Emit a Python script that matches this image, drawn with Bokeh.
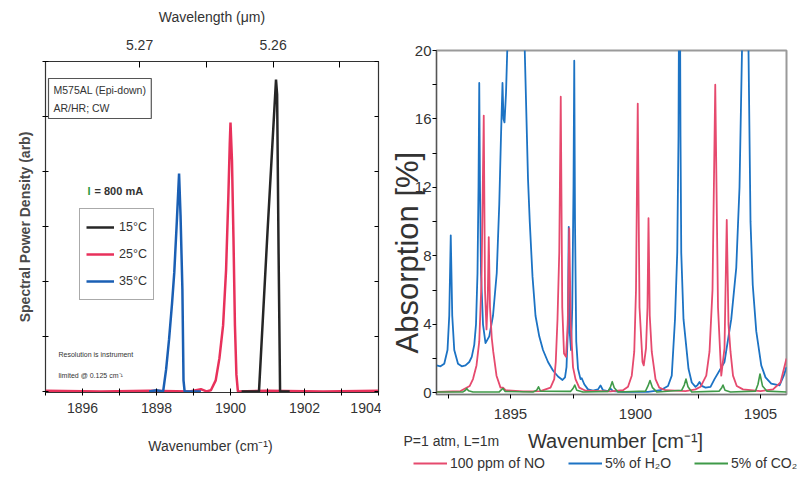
from bokeh.plotting import figure
from bokeh.layouts import row, column
from bokeh.models import Range1d, LinearAxis, FixedTicker, Label, Legend, LegendItem
from bokeh.embed import file_html
from bokeh.resources import INLINE

# ---------------- data: left panel (laser spectra) ----------------
L_WN_15 = [1900.3, 1900.77, 1901.0, 1901.23, 1901.26, 1901.3, 1901.34, 1901.6]
L_SP_15 = [0.0, 0.0, 2.9, 5.67, 5.4, 2.5, 0.0, 0.0]

L_WN_25 = [1895.0, 1896.5, 1897.8, 1898.9, 1899.2, 1899.35, 1899.47, 1899.6, 1899.7, 1899.8,
           1899.88, 1899.94, 1899.98, 1900.0, 1900.04, 1900.08, 1900.12, 1900.16, 1900.2, 1901.0,
           1902.5, 1904.0]
L_SP_25 = [0.01, 0.0, 0.01, 0.0, 0.04, 0.0, 0.02, 0.2, 0.6, 1.2,
           2.2, 3.5, 4.5, 4.89, 4.2, 2.8, 1.2, 0.3, 0.0, 0.01,
           0.0, 0.01]

L_WN_35 = [1897.8, 1898.0, 1898.18, 1898.26, 1898.34, 1898.42, 1898.48, 1898.55, 1898.61, 1898.65,
           1898.7, 1898.73, 1898.76, 1899.2]
L_SP_35 = [0.0, 0.02, 0.0, 0.4, 0.95, 1.6, 2.16, 3.1, 3.96, 3.2,
           1.85, 0.2, 0.0, 0.0]

L_LABELS = ["15°C", "25°C", "35°C"]
L_X_TICKS = [1896, 1898, 1900, 1902, 1904]
L_X_MINOR = [1895, 1897, 1899, 1901, 1903]
L_Y_TICKS = [0, 1, 2, 3, 4, 5, 6]
WL_TICKS = [5.27, 5.26]
WL_MINOR = [5.265, 5.255]

# ---------------- data: right panel (absorption) ----------------
NO_WN = [1892.04, 1893.0, 1893.37, 1893.5, 1893.64, 1893.75, 1893.84, 1893.93, 1893.98, 1894.04,
         1894.09, 1894.13, 1894.18, 1894.25, 1894.31, 1894.44, 1894.6, 1894.7, 1894.8, 1895.5,
         1896.2, 1896.6, 1896.75, 1896.81, 1896.88, 1896.95, 1897.01, 1897.07, 1897.14, 1897.22,
         1897.29, 1897.35, 1897.41, 1897.5, 1897.6, 1897.75, 1898.0, 1899.0, 1899.5, 1899.7,
         1899.85, 1899.95, 1900.02, 1900.09, 1900.16, 1900.28, 1900.33, 1900.42, 1900.48, 1900.52,
         1900.57, 1900.65, 1900.8, 1900.95, 1901.2, 1902.0, 1902.4, 1902.6, 1902.83, 1902.96,
         1903.08, 1903.19, 1903.3, 1903.43, 1903.56, 1903.65, 1903.72, 1903.8, 1903.9, 1904.05,
         1904.3, 1905.0, 1905.5, 1905.8, 1906.04]
NO_ABS = [0.05, 0.1, 0.4, 0.8, 1.6, 3.0, 6.5, 16.2, 6.0, 3.7,
          5.5, 9.1, 5.0, 3.2, 2.4, 1.0, 0.3, 0.3, 0.15, 0.08,
          0.1, 0.3, 0.8, 1.8, 4.3, 8.2, 17.3, 5.0, 2.3, 2.1,
          4.0, 9.6, 4.0, 1.5, 0.8, 0.3, 0.12, 0.08, 0.15, 0.35,
          1.0, 2.4, 6.0, 16.9, 5.0, 1.8, 1.6, 2.6, 5.0, 10.2,
          4.5, 2.4, 0.8, 0.3, 0.15, 0.1, 0.2, 0.35, 1.0, 2.4,
          6.0, 18.0, 5.0, 1.0, 2.6, 10.1, 4.0, 2.4, 1.0, 0.4,
          0.2, 0.1, 0.2, 0.6, 2.0]

H2O_WN = [1892.04, 1892.2, 1892.35, 1892.48, 1892.55, 1892.61, 1892.67, 1892.75, 1892.9, 1893.05,
          1893.2, 1893.35, 1893.45, 1893.55, 1893.62, 1893.68, 1893.72, 1893.75, 1893.78, 1893.82,
          1893.9, 1894.0, 1894.15, 1894.3, 1894.45, 1894.55, 1894.62, 1894.68, 1894.72, 1894.76,
          1894.82, 1894.88, 1895.0, 1895.3, 1895.57, 1895.7, 1895.77, 1895.88, 1896.0, 1896.15,
          1896.3, 1896.5, 1896.7, 1896.9, 1897.08, 1897.18, 1897.24, 1897.29, 1897.33, 1897.37,
          1897.42, 1897.47, 1897.52, 1897.55, 1897.58, 1897.63, 1897.7, 1897.8, 1897.85, 1897.95,
          1898.1, 1898.3, 1898.5, 1898.6, 1898.7, 1898.9, 1899.0, 1899.1, 1899.5, 1900.5,
          1901.0, 1901.3, 1901.45, 1901.58, 1901.67, 1901.72, 1901.76, 1901.8, 1901.83, 1901.92,
          1902.12, 1902.25, 1902.4, 1902.48, 1902.56, 1902.65, 1902.8, 1903.0, 1903.16, 1903.56,
          1903.83, 1904.03, 1904.16, 1904.26, 1904.38, 1904.52, 1904.6, 1904.69, 1904.83, 1905.03,
          1905.2, 1905.43, 1905.76, 1905.93, 1906.04]
H2O_ABS = [1.6, 1.55, 1.7, 2.5, 4.5, 9.2, 4.5, 2.5, 1.7, 1.55,
           1.6, 1.8, 2.1, 2.8, 4.0, 7.0, 12.0, 18.1, 12.0, 7.0,
           4.0, 2.9, 3.3, 4.5, 7.0, 11.0, 15.0, 18.1, 16.0, 15.8,
           17.5, 20.5, 30.0, 40.0, 20.0, 12.5, 10.0, 6.8, 4.5, 3.3,
           2.5, 1.8, 1.3, 0.95, 0.75, 0.9, 1.5, 3.5, 9.7, 3.5,
           2.5, 5.0, 12.0, 19.4, 10.0, 3.0, 1.4, 0.8, 0.85, 0.5,
           0.2, 0.12, 0.2, 0.43, 0.15, 0.1, 0.25, 0.1, 0.05, 0.05,
           0.15, 0.4, 1.0, 4.3, 8.2, 15.0, 30.0, 15.0, 8.2, 4.3,
           1.4, 0.6, 0.35, 0.45, 0.63, 0.4, 0.3, 0.35, 0.8, 1.8,
           4.3, 7.3, 12.0, 20.0, 40.0, 20.0, 10.0, 6.3, 3.6, 1.6,
           0.9, 0.53, 0.43, 1.0, 1.5]

CO2_WN = [1892.04, 1893.1, 1893.2, 1893.25, 1893.32, 1893.5, 1894.55, 1894.65, 1894.7, 1894.78,
          1895.9, 1896.05, 1896.12, 1896.2, 1897.4, 1897.5, 1897.57, 1897.65, 1897.9, 1898.9,
          1899.0, 1899.07, 1899.15, 1899.3, 1900.4, 1900.5, 1900.58, 1900.68, 1900.85, 1901.85,
          1901.95, 1902.02, 1902.1, 1902.25, 1903.35, 1903.45, 1903.5, 1903.58, 1903.8, 1904.8,
          1904.9, 1904.98, 1905.08, 1905.25, 1906.04]
CO2_ABS = [0.05, 0.05, 0.15, 0.25, 0.12, 0.05, 0.05, 0.2, 0.25, 0.08,
           0.05, 0.15, 0.35, 0.1, 0.08, 0.25, 0.45, 0.15, 0.05, 0.08,
           0.35, 0.65, 0.3, 0.05, 0.1, 0.4, 0.72, 0.3, 0.05, 0.15,
           0.45, 0.8, 0.35, 0.05, 0.1, 0.3, 0.45, 0.15, 0.05, 0.1,
           0.5, 1.1, 0.4, 0.1, 0.05]

R_LABELS = ["100 ppm of NO", "5% of H₂O", "5% of CO₂"]
R_X_TICKS = [1895, 1900, 1905]
R_X_MINOR = [1892.5, 1897.5, 1902.5]
R_Y_TICKS = [0, 4, 8, 12, 16, 20]
R_Y_MINOR = [2, 6, 10, 14, 18]

FONT = "Liberation Sans"
TXT = "#333333"
TOP_H = 430

# ---------------- left figure ----------------
pL = figure(width=381, height=TOP_H, x_range=Range1d(1895, 1904), y_range=Range1d(-0.02, 6.0),
            output_backend="svg", toolbar_location=None,
            min_border_left=45, min_border_right=3, min_border_top=61, min_border_bottom=38)
pL.xgrid.visible = False
pL.ygrid.visible = False
pL.outline_line_color = "#333333"
pL.outline_line_width = 1.2

xa = pL.xaxis[0]
xa.ticker = FixedTicker(ticks=L_X_TICKS, minor_ticks=L_X_MINOR)
xa.major_tick_in = 4; xa.major_tick_out = 3
xa.minor_tick_in = 4; xa.minor_tick_out = 3
xa.major_label_text_font = FONT
xa.major_label_text_font_size = "14px"
xa.major_label_text_color = TXT
xa.major_label_standoff = 7
xa.axis_line_color = "#333333"

ya = pL.yaxis[0]
ya.ticker = FixedTicker(ticks=L_Y_TICKS)
ya.major_label_overrides = {t: "" for t in L_Y_TICKS}
ya.major_tick_in = 3; ya.major_tick_out = 3
ya.axis_label = "Spectral Power Density (arb)"
ya.axis_label_text_font = FONT
ya.axis_label_text_font_style = "bold"
ya.axis_label_text_font_size = "14px"
ya.axis_label_text_color = "#4a4a4a"
ya.axis_label_standoff = 10
ya.axis_line_color = "#333333"

pL.extra_x_ranges = {"wl": Range1d(1e4 / 1895, 1e4 / 1904)}
top = LinearAxis(x_range_name="wl", ticker=FixedTicker(ticks=WL_TICKS, minor_ticks=WL_MINOR),
                 axis_label="Wavelength (μm)")
top.major_tick_in = 6; top.major_tick_out = 0
top.minor_tick_in = 6; top.minor_tick_out = 0
top.major_label_text_font = FONT
top.major_label_text_font_size = "14px"
top.major_label_text_color = TXT
top.major_label_standoff = 12
top.axis_label_text_font = FONT
top.axis_label_text_font_style = "normal"
top.axis_label_text_font_size = "14px"
top.axis_label_text_color = TXT
top.axis_label_standoff = 12
top.axis_line_color = "#333333"
pL.add_layout(top, "above")

rax = LinearAxis(ticker=FixedTicker(ticks=L_Y_TICKS))
rax.major_label_overrides = {t: "" for t in L_Y_TICKS}
rax.major_tick_in = 4; rax.major_tick_out = 0
rax.major_label_standoff = 0
rax.axis_line_color = "#333333"
pL.add_layout(rax, "right")

COLS_L = ["#262626", "#e8315b", "#1a5fb4"]
r25 = pL.line(L_WN_25, L_SP_25, line_color=COLS_L[1], line_width=2.5)
r35 = pL.line(L_WN_35, L_SP_35, line_color=COLS_L[2], line_width=2.5)
r15 = pL.line(L_WN_15, L_SP_15, line_color=COLS_L[0], line_width=2.5)

legL = Legend(items=[LegendItem(label=L_LABELS[0], renderers=[r15]),
                     LegendItem(label=L_LABELS[1], renderers=[r25]),
                     LegendItem(label=L_LABELS[2], renderers=[r35])],
              location=(34, 92), glyph_width=28, glyph_height=24, spacing=3,
              padding=6, margin=0, label_standoff=5,
              label_text_font=FONT, label_text_font_size="12.5px", label_text_color=TXT,
              border_line_color="#555555", border_line_width=1.2,
              background_fill_color="white", background_fill_alpha=1.0)
pL.add_layout(legL, "center")

pL.add_layout(Label(x=3, y=314, x_units="screen", y_units="screen",
                    text="M575AL (Epi-down)\nAR/HR; CW", text_baseline="top", text_align="left",
                    text_font=FONT, text_font_size="10.5px", text_color=TXT, text_line_height=1.5,
                    border_line_color="#555555", border_line_width=1.2,
                    background_fill_color="white", padding=5))
pL.add_layout(Label(x=42, y=202, x_units="screen", y_units="screen", text="I",
                    text_baseline="middle", text_font=FONT, text_font_style="bold",
                    text_font_size="11px", text_color="#2a9a3a"))
pL.add_layout(Label(x=49, y=202, x_units="screen", y_units="screen", text="= 800 mA",
                    text_baseline="middle", text_font=FONT, text_font_style="bold",
                    text_font_size="11px", text_color=TXT))
pL.add_layout(Label(x=13, y=38, x_units="screen", y_units="screen", text="Resolution is instrument",
                    text_baseline="middle", text_font=FONT, text_font_size="7px", text_color=TXT))
pL.add_layout(Label(x=13, y=17, x_units="screen", y_units="screen", text="limited @ 0.125 cm⁻¹",
                    text_baseline="middle", text_font=FONT, text_font_size="7px", text_color=TXT))

# ---------------- right figure ----------------
pR = figure(width=419, height=TOP_H, x_range=Range1d(1892.04, 1906.04), y_range=Range1d(-0.1, 20),
            output_backend="svg", toolbar_location=None,
            min_border_left=55, min_border_right=14, min_border_top=50, min_border_bottom=36)
pR.xgrid.visible = False
pR.ygrid.visible = False
pR.outline_line_color = "#9a9a9a"
pR.outline_line_width = 2

bx = pR.xaxis[0]
bx.ticker = FixedTicker(ticks=R_X_TICKS, minor_ticks=R_X_MINOR)
bx.major_tick_in = 0; bx.major_tick_out = 4
bx.minor_tick_in = 0; bx.minor_tick_out = 4
bx.major_label_text_font = FONT
bx.major_label_text_font_size = "15px"
bx.major_label_text_color = TXT
bx.major_label_standoff = 10
bx.axis_line_color = "#777777"

ly = pR.yaxis[0]
ly.ticker = FixedTicker(ticks=R_Y_TICKS, minor_ticks=R_Y_MINOR)
ly.major_tick_in = 0; ly.major_tick_out = 4
ly.minor_tick_in = 0; ly.minor_tick_out = 4
ly.major_label_text_font = FONT
ly.major_label_text_font_size = "15px"
ly.major_label_text_color = TXT
ly.major_label_standoff = 1
# trailing no-break spaces move the (rotated) title down, as in the original
ly.axis_label = "Absorption [%]" + "\u00a0" * 7
ly.axis_label_text_font = FONT
ly.axis_label_text_font_style = "normal"
ly.axis_label_text_font_size = "31px"
ly.axis_label_text_color = TXT
ly.axis_label_standoff = -13
ly.axis_line_color = "#555555"

COLS_R = ["#e64a6e", "#1c73c4", "#3f9a48"]
pR.line(H2O_WN, H2O_ABS, line_color=COLS_R[1], line_width=1.8, line_join="round")
pR.line(NO_WN, NO_ABS, line_color=COLS_R[0], line_width=1.8, line_join="round")
pR.line(CO2_WN, CO2_ABS, line_color=COLS_R[2], line_width=1.6, line_join="round")

# ---------------- bottom strip: x-axis titles, conditions and key ----------------
pB = figure(width=800, height=491 - TOP_H, x_range=Range1d(0, 800), y_range=Range1d(0, 491 - TOP_H),
            output_backend="svg", toolbar_location=None, x_axis_type=None, y_axis_type=None,
            min_border=0, min_border_left=0, min_border_right=0, min_border_top=0,
            min_border_bottom=0)
pB.outline_line_color = None
pB.grid.visible = False

# key swatches: same series as the right panel (their data lie outside this strip's view)
kNO = pB.line(NO_WN, NO_ABS, line_color=COLS_R[0], line_width=2)
kH2O = pB.line(H2O_WN, H2O_ABS, line_color=COLS_R[1], line_width=2)
kCO2 = pB.line(CO2_WN, CO2_ABS, line_color=COLS_R[2], line_width=2)

pB.add_layout(Label(x=210, y=46, x_units="screen", y_units="screen", text="Wavenumber (cm⁻¹)",
                    text_align="center", text_baseline="middle", text_font=FONT,
                    text_font_size="14px", text_color=TXT))
pB.add_layout(Label(x=403, y=51, x_units="screen", y_units="screen", text="P=1 atm, L=1m",
                    text_align="left", text_baseline="middle", text_font=FONT,
                    text_font_size="14px", text_color=TXT))
pB.add_layout(Label(x=615, y=51, x_units="screen", y_units="screen", text="Wavenumber [cm⁻¹]",
                    text_align="center", text_baseline="middle", text_font=FONT,
                    text_font_size="20px", text_color=TXT))

legR = Legend(items=[LegendItem(label=R_LABELS[0], renderers=[kNO]),
                     LegendItem(label=R_LABELS[1], renderers=[kH2O]),
                     LegendItem(label=R_LABELS[2], renderers=[kCO2])],
              location=(413, 20), orientation="horizontal", glyph_width=34, glyph_height=16,
              spacing=23, padding=0, margin=0, label_standoff=3,
              label_text_font=FONT, label_text_font_size="14px", label_text_color=TXT,
              border_line_color=None, background_fill_alpha=0)
pB.add_layout(legR, "center")

out = column(row(column(pL), column(pR)), pB)
open("out.html", "w").write(file_html(out, INLINE))
